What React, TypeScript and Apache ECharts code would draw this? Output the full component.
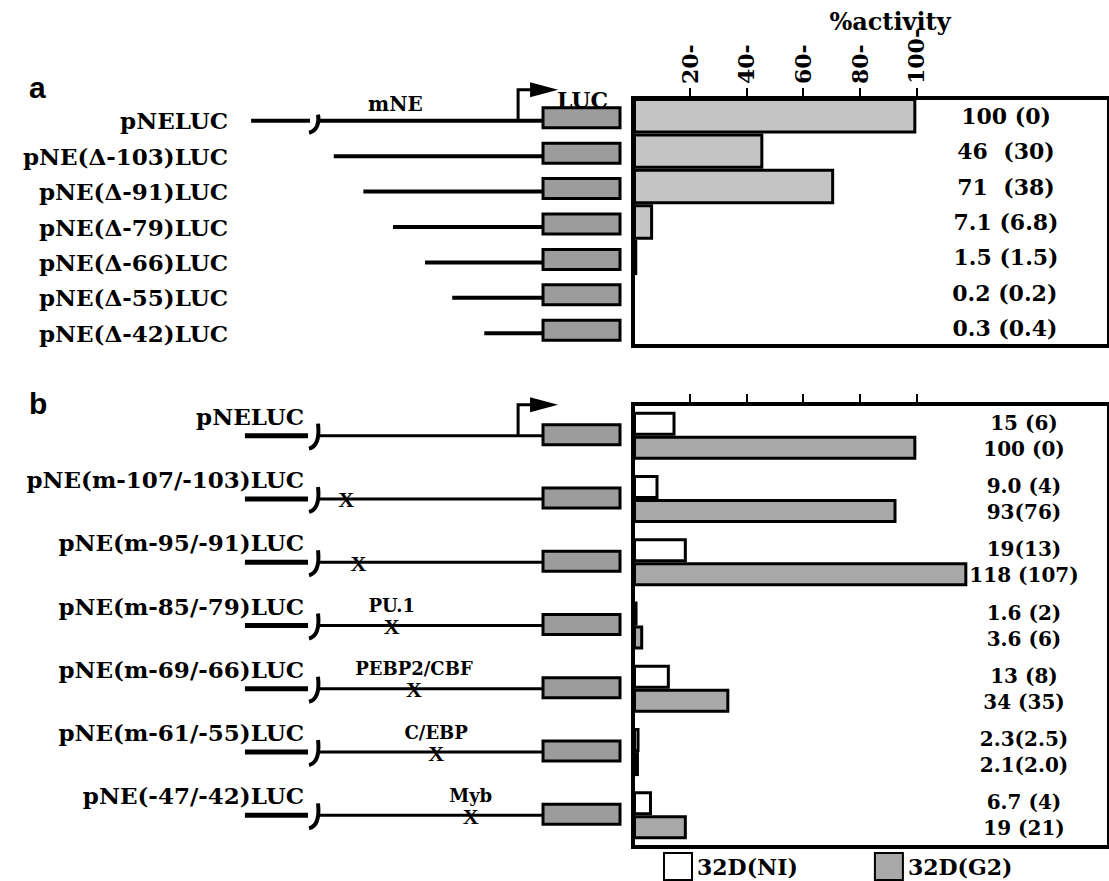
import React, { useEffect, useRef } from 'react';
import * as echarts from 'echarts';

// ---------- data ----------
const aNames = ['pNELUC', 'pNE(Δ-103)LUC', 'pNE(Δ-91)LUC', 'pNE(Δ-79)LUC', 'pNE(Δ-66)LUC', 'pNE(Δ-55)LUC', 'pNE(Δ-42)LUC'];
const aActivity = [100, 46, 71, 7.1, 1.5, 0.2, 0.3];
const aLabels = ['100 (0)', '46  (30)', '71  (38)', '7.1 (6.8)', '1.5 (1.5)', '0.2 (0.2)', '0.3 (0.4)'];
const aDeletionEnd: (number | null)[] = [null, -103, -91, -79, -66, -55, -42];

const bNames = ['pNELUC', 'pNE(m-107/-103)LUC', 'pNE(m-95/-91)LUC', 'pNE(m-85/-79)LUC', 'pNE(m-69/-66)LUC', 'pNE(m-61/-55)LUC', 'pNE(-47/-42)LUC'];
const bNI = [15, 9.0, 19, 1.6, 13, 2.3, 6.7];
const bG2 = [100, 93, 118, 3.6, 34, 2.1, 19];
const bNILabels = ['15 (6)', '9.0 (4)', '19(13)', '1.6 (2)', '13 (8)', '2.3(2.5)', '6.7 (4)'];
const bG2Labels = ['100 (0)', '93(76)', '118 (107)', '3.6 (6)', '34 (35)', '2.1(2.0)', '19 (21)'];
const bMutationPos: (number | null)[] = [null, -98, -93, -79.5, -70.5, -61.5, -47.5];
const bSites = ['', '', '', 'PU.1', 'PEBP2/CBF', 'C/EBP', 'Myb'];

const tickValues = [20, 40, 60, 80, 100];
const legendNames = ['32D(NI)', '32D(G2)'];

// ---------- schematic layout (axis units) ----------
const SCH_MIN = -141;
const SCH_MAX = 13;
const FULL_START_A = -136.5;
const FULL_START_B = -139;
const BREAK_POS = -111;
const TSS_POS = -28.3;
const MNE_POS = -78;
const LUC_START = -18.2;
const LUC_END = 13;

const SERIF = "'DejaVu Serif', 'Liberation Serif', serif";
const GRAY_BOX = '#9c9c9c';

function arrow(tx: number, ly: number) {
  return [
    { type: 'polyline', shape: { points: [[tx, ly], [tx, ly - 31], [tx + 13, ly - 31]] }, style: { stroke: '#000', lineWidth: 3, fill: null } },
    { type: 'polygon', shape: { points: [[tx + 12, ly - 38.5], [tx + 40, ly - 31], [tx + 12, ly - 23.5]] }, style: { fill: '#000' } },
  ];
}

function breakGlyph(bx: number, ly: number, up: number, down: number) {
  return {
    type: 'bezierCurve',
    shape: { x1: bx + 4, y1: ly - up, cpx1: bx + 5.5, cpy1: ly + 2, cpx2: bx + 3, cpy2: ly + down - 2, x2: bx - 5, y2: ly + down },
    style: { stroke: '#000', lineWidth: 4, fill: null },
  };
}

export default function App() {
  const ref = useRef<HTMLDivElement>(null);
  useEffect(() => {
    document.body.style.margin = '0';
    const chart = echarts.init(ref.current!, null, { renderer: 'svg' });
    const barLeft = 633;
    const barWidthPx = 486;
    const barMax = 168;

    const option: any = {
      animation: false,
      backgroundColor: '#fff',
      title: [
        { text: '%activity', left: 885, top: 4, textAlign: 'center', textStyle: { fontFamily: SERIF, fontWeight: 'bold', fontSize: 24, color: '#000' } },
        { text: 'a', left: 24, top: 67, textStyle: { fontFamily: "'Liberation Sans', Arial, sans-serif", fontWeight: 'bold', fontSize: 30, color: '#000' } },
        { text: 'b', left: 24, top: 383, textStyle: { fontFamily: "'Liberation Sans', Arial, sans-serif", fontWeight: 'bold', fontSize: 30, color: '#000' } },
      ],
      legend: {
        data: legendNames,
        left: 663,
        top: 852,
        padding: 0,
        icon: 'rect',
        itemWidth: 28,
        itemHeight: 27,
        itemGap: 76,
        textStyle: { fontFamily: SERIF, fontWeight: 'bold', fontSize: 22, color: '#000' },
      },
      grid: [
        { left: barLeft, top: 98, width: barWidthPx, height: 248, show: true, borderColor: '#000', borderWidth: 4, backgroundColor: 'transparent' },
        { left: 240, top: 103, width: 380, height: 248 },
        { left: barLeft, top: 404, width: barWidthPx, height: 443, show: true, borderColor: '#000', borderWidth: 4, backgroundColor: 'transparent' },
        { left: 240, top: 404, width: 380, height: 443 },
      ],
      xAxis: [
        {
          gridIndex: 0, type: 'value', position: 'top', min: 0, max: barMax,
          splitLine: { show: false }, axisLine: { show: false },
          axisTick: { show: true, length: 10, customValues: tickValues, lineStyle: { color: '#000', width: 2 } },
          axisLabel: { show: true, customValues: tickValues, rotate: -90, margin: 14, formatter: (v: number) => `${v}-`, fontFamily: SERIF, fontWeight: 'bold', fontSize: 22, color: '#000' },
        },
        { gridIndex: 1, type: 'value', min: SCH_MIN, max: SCH_MAX, show: false },
        {
          gridIndex: 2, type: 'value', position: 'top', min: 0, max: barMax,
          splitLine: { show: false }, axisLine: { show: false },
          axisTick: { show: true, length: 10, customValues: tickValues, lineStyle: { color: '#000', width: 2 } },
          axisLabel: { show: false },
        },
        { gridIndex: 3, type: 'value', min: SCH_MIN, max: SCH_MAX, show: false },
      ],
      yAxis: [
        { gridIndex: 0, type: 'category', data: aNames, inverse: true, show: false },
        {
          gridIndex: 1, type: 'category', data: aNames, inverse: true,
          axisLine: { show: false }, axisTick: { show: false },
          axisLabel: { interval: 0, margin: 12, fontFamily: SERIF, fontWeight: 'bold', fontSize: 23, color: '#000' },
        },
        { gridIndex: 2, type: 'category', data: bNames, inverse: true, show: false },
        {
          gridIndex: 3, type: 'category', data: bNames, inverse: true,
          axisLine: { show: false }, axisTick: { show: false },
          axisLabel: { interval: 0, margin: -64, verticalAlign: 'bottom', padding: [0, 0, 8, 0], fontFamily: SERIF, fontWeight: 'bold', fontSize: 23, color: '#000' },
        },
      ],
      series: [
        {
          name: 'activity', type: 'bar', xAxisIndex: 0, yAxisIndex: 0, data: aActivity,
          barCategoryGap: '0%',
          itemStyle: { color: '#c4c4c4', borderColor: '#000', borderWidth: 3 },
          label: {
            show: true, position: [1006 - barLeft, '50%'], align: 'center', verticalAlign: 'middle',
            formatter: (p: any) => aLabels[p.dataIndex],
            fontFamily: SERIF, fontWeight: 'bold', fontSize: 22, lineHeight: 22, color: '#000',
          },
        },
        {
          name: legendNames[0], type: 'bar', xAxisIndex: 2, yAxisIndex: 2, data: bNI,
          barWidth: 24, barGap: '0%',
          itemStyle: { color: '#fff', borderColor: '#000', borderWidth: 3 },
          label: {
            show: true, position: [1024 - barLeft, '50%'], offset: [0, -1], align: 'center', verticalAlign: 'middle',
            formatter: (p: any) => bNILabels[p.dataIndex],
            fontFamily: SERIF, fontWeight: 'bold', fontSize: 20, lineHeight: 20, color: '#000',
          },
        },
        {
          name: legendNames[1], type: 'bar', xAxisIndex: 2, yAxisIndex: 2, data: bG2,
          barWidth: 24, barGap: '0%',
          itemStyle: { color: '#a8a8a8', borderColor: '#000', borderWidth: 3 },
          label: {
            show: true, position: [1024 - barLeft, '50%'], offset: [0, 1], align: 'center', verticalAlign: 'middle',
            formatter: (p: any) => bG2Labels[p.dataIndex],
            fontFamily: SERIF, fontWeight: 'bold', fontSize: 20, lineHeight: 20, color: '#000',
          },
        },
        {
          name: 'constructsA', type: 'custom', xAxisIndex: 1, yAxisIndex: 1, clip: false, silent: true,
          data: aDeletionEnd.map((d, i) => [d == null ? FULL_START_A : d, i]),
          renderItem: (params: any, api: any) => {
            const i = params.dataIndex;
            const [x0, ly] = api.coord([api.value(0), i]);
            const bx0 = api.coord([LUC_START, i])[0];
            const bx1 = api.coord([LUC_END, i])[0];
            const ch: any[] = [
              { type: 'line', shape: { x1: x0, y1: ly, x2: bx0, y2: ly }, style: { stroke: '#000', lineWidth: 4 } },
              { type: 'rect', shape: { x: bx0, y: ly - 13, width: bx1 - bx0, height: 20 }, style: { fill: GRAY_BOX, stroke: '#000', lineWidth: 3 } },
            ];
            if (aDeletionEnd[i] == null) {
              const brX = api.coord([BREAK_POS, i])[0];
              ch.push({ type: 'rect', shape: { x: brX - 4, y: ly - 4, width: 8, height: 8 }, style: { fill: '#fff' } });
              ch.push(breakGlyph(brX, ly, 6, 12));
              const tx = api.coord([TSS_POS, i])[0];
              ch.push(...arrow(tx, ly));
              const mx = api.coord([MNE_POS, i])[0];
              ch.push({ type: 'text', x: mx, y: ly - 17, style: { text: 'mNE', fontFamily: SERIF, fontWeight: 'bold', fontSize: 20, lineHeight: 18, fill: '#000', align: 'center', verticalAlign: 'middle' } });
              ch.push({ type: 'text', x: tx + 39, y: ly - 21, style: { text: 'LUC', fontFamily: SERIF, fontWeight: 'bold', fontSize: 22, lineHeight: 20, fill: '#000', align: 'left', verticalAlign: 'middle' } });
            }
            return { type: 'group', children: ch };
          },
        },
        {
          name: 'constructsB', type: 'custom', xAxisIndex: 3, yAxisIndex: 3, clip: false, silent: true,
          data: bNames.map((_, i) => [FULL_START_B, i]),
          renderItem: (params: any, api: any) => {
            const i = params.dataIndex;
            const [x0, ly] = api.coord([api.value(0), i]);
            const brX = api.coord([BREAK_POS, i])[0];
            const bx0 = api.coord([LUC_START, i])[0];
            const bx1 = api.coord([LUC_END, i])[0];
            const ch: any[] = [
              { type: 'line', shape: { x1: x0, y1: ly, x2: brX - 6, y2: ly }, style: { stroke: '#000', lineWidth: 5 } },
              { type: 'line', shape: { x1: brX + 3, y1: ly, x2: bx0, y2: ly }, style: { stroke: '#000', lineWidth: 3 } },
              breakGlyph(brX, ly, 12, 13),
              { type: 'rect', shape: { x: bx0, y: ly - 11, width: bx1 - bx0, height: 20 }, style: { fill: GRAY_BOX, stroke: '#000', lineWidth: 3 } },
            ];
            const m = bMutationPos[i];
            if (m != null) {
              const mx = api.coord([m, i])[0];
              ch.push({ type: 'text', x: mx, y: ly + 1, style: { text: 'X', fontFamily: "'Liberation Serif', serif", fontWeight: 'bold', fontSize: 22, lineHeight: 15, fill: '#000', align: 'center', verticalAlign: 'middle' } });
              if (bSites[i]) {
                ch.push({ type: 'text', x: mx, y: ly - 20, style: { text: bSites[i], fontFamily: SERIF, fontWeight: 'bold', fontSize: 18, lineHeight: 15, fill: '#000', align: 'center', verticalAlign: 'middle' } });
              }
            }
            if (i === 0) {
              const tx = api.coord([TSS_POS, i])[0];
              ch.push(...arrow(tx, ly));
            }
            return { type: 'group', children: ch };
          },
        },
      ],
    };
    chart.setOption(option);
    return () => chart.dispose();
  }, []);
  return <div ref={ref} style={{ width: 1109, height: 881 }} />;
}
